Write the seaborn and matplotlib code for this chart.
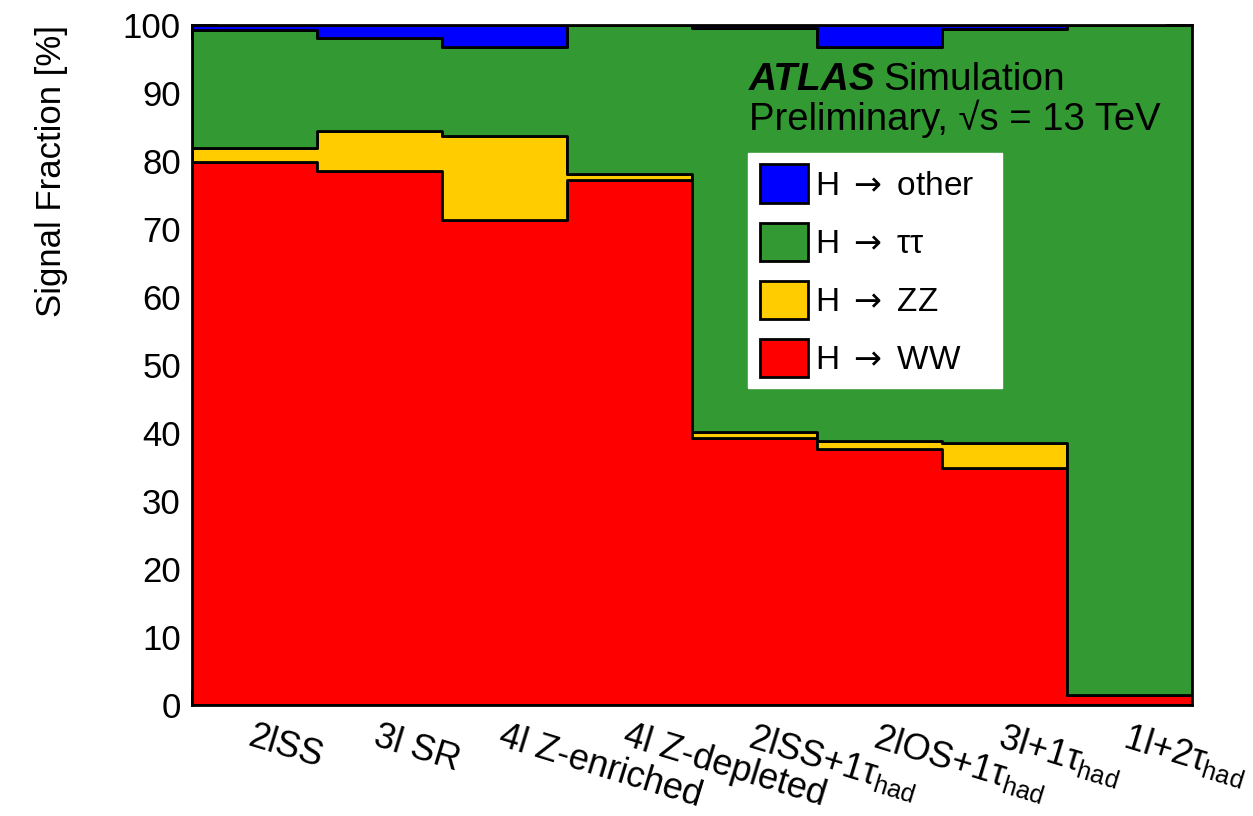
import numpy as np
import pandas as pd
import seaborn as sns
import matplotlib.pyplot as plt
from matplotlib.patches import Patch

# Signal fraction [%] per category
categories = ["2lSS", "3l SR", "4l Z-enriched", "4l Z-depleted",
              "2lSS+1τ$_{\\rm had}$", "2lOS+1τ$_{\\rm had}$",
              "3l+1τ$_{\\rm had}$", "1l+2τ$_{\\rm had}$"]
h_ww = [79.9, 78.5, 71.3, 77.2, 39.3, 37.6, 34.9, 1.5]
h_zz = [2.0, 5.9, 12.4, 0.9, 0.8, 1.2, 3.6, 0.0]
h_tautau = [17.4, 13.7, 13.1, 21.9, 59.4, 58.0, 60.9, 98.5]
h_other = [0.7, 1.9, 3.2, 0.0, 0.5, 3.2, 0.6, 0.0]

# first level ends up on top of the stack
decays = ["H → other", "H → ττ", "H → ZZ", "H → WW"]
legend_labels = [r"H $\mathsf{\rightarrow}$ other", r"H $\mathsf{\rightarrow}$ ττ",
                 r"H $\mathsf{\rightarrow}$ ZZ", r"H $\mathsf{\rightarrow}$ WW"]
colors = ["#0000ff", "#339933", "#ffcc00", "#ff0000"]

df = pd.DataFrame({
    "bin": np.tile(np.arange(len(categories)), len(decays)),
    "frac": h_other + h_tautau + h_zz + h_ww,
    "decay": np.repeat(decays, len(categories)),
})

sns.set_theme(style="ticks")
plt.rcParams["font.family"] = ["Liberation Sans", "DejaVu Sans"]
plt.rcParams["mathtext.fontset"] = "custom"
plt.rcParams["mathtext.rm"] = "Liberation Sans"
plt.rcParams["mathtext.it"] = "Liberation Sans:italic"
plt.rcParams["mathtext.sf"] = "DejaVu Sans"
for k in ["text.color", "axes.labelcolor", "xtick.color", "ytick.color"]:
    plt.rcParams[k] = "black"

fig = plt.figure(figsize=(12.53, 8.16), dpi=100)
ax = fig.add_axes([0.1532, 0.136, 0.798, 0.8334])

sns.histplot(data=df, x="bin", weights="frac", hue="decay", hue_order=decays,
             multiple="stack", discrete=True, element="step",
             palette=dict(zip(decays, colors)), edgecolor="black",
             linewidth=2, alpha=1, legend=False, ax=ax)

ax.set_xlim(-0.5, len(categories) - 0.5)
ax.set_ylim(0, 100)

# y axis: major every 10, minor every 2, ticks on both sides
ax.set_yticks(np.arange(0, 101, 10))
ax.set_yticks(np.arange(0, 101, 2), minor=True)
ax.tick_params(axis="y", which="major", direction="in", length=19, width=1.3,
               left=True, right=True, labelsize=25, pad=8)
ax.tick_params(axis="y", which="minor", direction="in", length=9, width=1.3,
               left=True, right=True)

# x axis: labels at bin centres, ticks at bin edges
ax.set_xticks(np.arange(len(categories)))
ax.set_xticklabels(categories, rotation=-17, ha="left", va="top",
                   rotation_mode="anchor", fontsize=26)
ax.set_xticks(np.arange(len(categories) + 1) - 0.5, minor=True)
ax.tick_params(axis="x", which="major", length=0, pad=10)
ax.tick_params(axis="x", which="minor", direction="in", length=11, width=1.3,
               top=True, bottom=True)

ax.set_xlabel("")
ax.set_ylabel("Signal Fraction [%]", fontsize=25, loc="top")
ax.yaxis.set_label_coords(-0.124, 1.0)

for s in ax.spines.values():
    s.set_linewidth(2)
    s.set_color("black")

# ATLAS label
t = ax.text(0.557, 0.905, "ATLAS", transform=ax.transAxes, fontsize=28,
            fontweight="bold", fontstyle="italic", ha="left", va="baseline")
fig.canvas.draw()
bb = t.get_window_extent(renderer=fig.canvas.get_renderer())
x_end = ax.transAxes.inverted().transform((bb.x1, bb.y0))[0]
ax.text(x_end + 0.008, 0.905, "Simulation", transform=ax.transAxes,
        fontsize=28, ha="left", va="baseline")
ax.text(0.557, 0.846, "Preliminary, √s = 13 TeV", transform=ax.transAxes,
        fontsize=27.5, ha="left", va="baseline")

handles = [Patch(facecolor=c, edgecolor="black", linewidth=2) for c in colors]
leg = ax.legend(handles, legend_labels, loc="upper left",
                bbox_to_anchor=(0.556, 0.429, 0.254, 0.383), mode="expand",
                borderaxespad=0, fontsize=24, frameon=True, fancybox=False,
                handlelength=1.45, handleheight=1.38, handletextpad=0.2,
                labelspacing=0.6, borderpad=0.35)
leg.get_frame().set_facecolor("white")
leg.get_frame().set_edgecolor("white")
leg.get_frame().set_alpha(1)

fig.savefig("out.png", dpi=100)
